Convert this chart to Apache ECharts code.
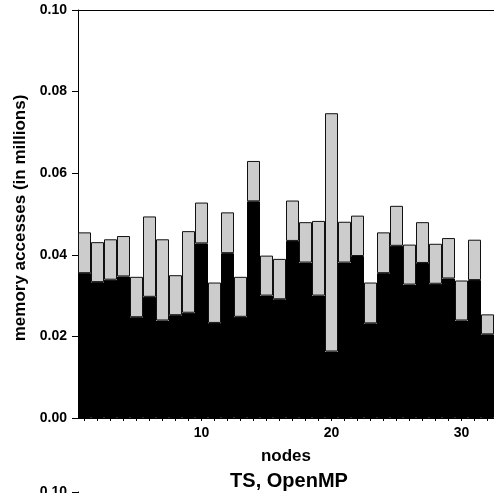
<!DOCTYPE html>
<html>
<head>
<meta charset="utf-8">
<script src="https://cdn.jsdelivr.net/npm/echarts@6/dist/echarts.min.js"></script>
<style>
  html, body { margin: 0; padding: 0; background: #fff; }
  #chart { width: 494px; height: 493px; }
</style>
</head>
<body>
<div id="chart"></div>
<script>
// Node numbers along the x axis
const nodes = [1, 2, 3, 4, 5, 6, 7, 8, 9, 10, 11, 12, 13, 14, 15, 16,
               17, 18, 19, 20, 21, 22, 23, 24, 25, 26, 27, 28, 29, 30, 31, 32];

// Lower (black) part of each bar, in millions of memory accesses
const lowerValues = [0.0355, 0.0333, 0.0339, 0.0347, 0.0247, 0.0297, 0.0239, 0.0252,
                     0.0258, 0.0428, 0.0233, 0.0404, 0.0248, 0.0531, 0.0300, 0.0291,
                     0.0434, 0.0381, 0.0300, 0.0163, 0.0381, 0.0397, 0.0232, 0.0355,
                     0.0422, 0.0327, 0.0380, 0.0329, 0.0342, 0.0239, 0.0338, 0.0205];

// Top of each bar (black + grey), in millions of memory accesses
const totalValues = [0.0455, 0.0431, 0.0438, 0.0446, 0.0346, 0.0494, 0.0438, 0.0350,
                     0.0458, 0.0528, 0.0332, 0.0504, 0.0346, 0.0630, 0.0398, 0.0390,
                     0.0533, 0.0480, 0.0483, 0.0747, 0.0481, 0.0496, 0.0332, 0.0455,
                     0.0520, 0.0425, 0.0480, 0.0427, 0.0441, 0.0337, 0.0437, 0.0254];

// Y tick values shown on the axis
const yTicks = [0.00, 0.02, 0.04, 0.06, 0.08, 0.10];

const upperValues = totalValues.map((t, i) => +(t - lowerValues[i]).toFixed(4));

const FONT = "'Liberation Sans', Arial, Helvetica, sans-serif";
const tickLabel = { fontFamily: FONT, fontWeight: 'bold', fontSize: 14, color: '#000' };

const yAxisBase = {
  type: 'value', min: 0, max: 0.1, interval: 0.02,
  axisLine: { show: true, lineStyle: { color: '#000', width: 1 } },
  axisTick: { show: true, length: 6, lineStyle: { color: '#000' } },
  splitLine: { show: false },
  axisLabel: Object.assign({
    margin: 11,
    formatter: v => yTicks.find(t => Math.abs(t - v) < 1e-9).toFixed(2)
  }, tickLabel)
};

const chart = echarts.init(document.getElementById('chart'), null, { renderer: 'canvas' });
chart.setOption({
  animation: false,
  backgroundColor: '#fff',
  title: {
    text: 'TS, OpenMP',
    left: 284, top: 466, textAlign: 'center',
    textStyle: { fontFamily: FONT, fontWeight: 'bold', fontSize: 20, color: '#000' }
  },
  grid: [
    { left: 78, top: 10, right: 0, bottom: 75 },
    { left: 78, top: 492, right: 0, height: 400 }
  ],
  xAxis: [
    {
      type: 'category', data: nodes, gridIndex: 0, position: 'bottom',
      name: 'nodes', nameLocation: 'middle', nameGap: 30,
      nameTextStyle: { fontFamily: FONT, fontWeight: 'bold', fontSize: 17, color: '#000' },
      axisLine: { show: true, lineStyle: { color: '#000' } },
      axisTick: { show: true, alignWithLabel: true, interval: 0, length: 3, lineStyle: { color: '#000' } },
      axisLabel: Object.assign({
        margin: 8,
        interval: (idx, val) => Number(val) % 10 === 0
      }, tickLabel)
    },
    {
      type: 'category', data: nodes, gridIndex: 0, position: 'top',
      axisLine: { show: true, lineStyle: { color: '#000' } },
      axisTick: { show: false }, axisLabel: { show: false }
    },
    {
      type: 'category', data: nodes, gridIndex: 1, position: 'top',
      axisLine: { show: true, lineStyle: { color: '#000' } },
      axisTick: { show: false }, axisLabel: { show: false }
    }
  ],
  yAxis: [
    Object.assign({}, yAxisBase, {
      gridIndex: 0,
      name: 'memory accesses (in millions)', nameLocation: 'middle', nameGap: 42,
      nameTextStyle: { fontFamily: FONT, fontWeight: 'bold', fontSize: 17, color: '#000',
                       padding: [0, 8, 0, 0] }
    }),
    Object.assign({}, yAxisBase, { gridIndex: 1 })
  ],
  series: [
    {
      type: 'bar', stack: 'acc', xAxisIndex: 0, yAxisIndex: 0,
      data: lowerValues, barCategoryGap: '0%',
      itemStyle: { color: '#000', borderColor: '#000', borderWidth: 1 }
    },
    {
      type: 'bar', stack: 'acc', xAxisIndex: 0, yAxisIndex: 0,
      data: upperValues, barCategoryGap: '0%',
      itemStyle: { color: '#cccccc', borderColor: '#111', borderWidth: 1 }
    }
  ]
});
</script>
</body>
</html>
